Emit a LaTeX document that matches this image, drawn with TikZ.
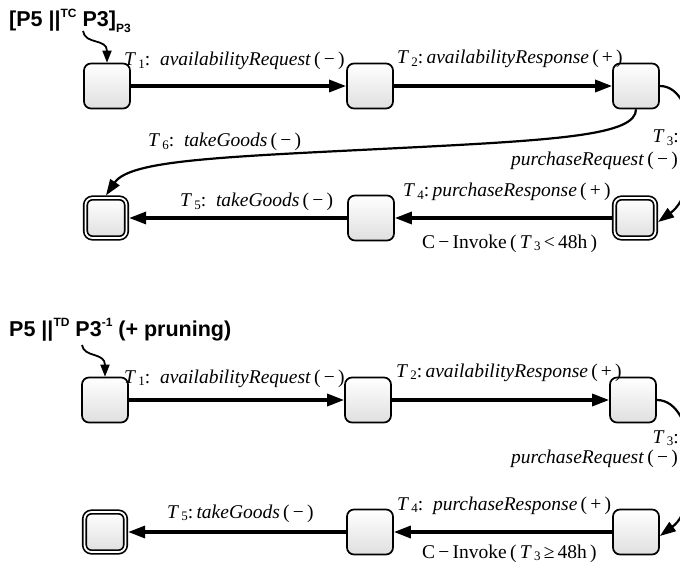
\documentclass[tikz,border=0pt]{standalone}
\usepackage{fontspec}
\setmainfont{Liberation Serif}
\newfontfamily\titlefont{Liberation Sans}
\usetikzlibrary{arrows.meta}
\newcommand\Tl[1]{\textit{T}{\fontsize{13}{13}\selectfont\raisebox{-0.45ex}{\,#1}}}
\newcommand\tfs{\fontsize{21.5}{25}\selectfont}
\newcommand\tsm[1]{{\fontsize{12}{12}\selectfont #1}}
\tikzset{
  sbox/.style={draw, line width=1.7pt, rounded corners=7pt, minimum width=46pt,
    minimum height=45pt, top color=white, bottom color=gray!25, inner sep=0pt},
  dbox/.style={sbox, double, double distance=1.8pt, minimum width=41pt,
    minimum height=40pt, outer sep=2.6pt},
  tr/.style={line width=3.2pt, -{Triangle[length=17pt,width=12pt]}},
  ctr/.style={line width=2.2pt, -{Triangle[length=16pt,width=11pt]}},
  initarr/.style={line width=1.8pt, -{Triangle[length=12pt,width=9pt]}},
  lab/.style={font=\fontsize{19.5}{22}\selectfont, inner sep=0pt, anchor=base west},
  labr/.style={lab, anchor=base east},
  ttl/.style={font=\titlefont\bfseries\tfs, inner sep=0pt, anchor=base west},
}
\begin{document}
\begin{tikzpicture}[x=1pt,y=-1pt]
\useasboundingbox (0,0) rectangle (680,572);
% ---------- top diagram ----------
\node[ttl] (t1) at (9,27) {[P5 ||\raisebox{0.85ex}{\tsm{TC}} P3]\raisebox{-0.5ex}{\tsm{P3}}};
\coordinate (i1) at (83,31);
\node[sbox] (A1) at (107,86) {};
\node[sbox] (A2) at (370,86) {};
\node[sbox] (A3) at (636,86) {};
\node[dbox] (A4) at (635,218) {};
\node[sbox] (A5) at (371,218) {};
\node[dbox] (A6) at (106,218) {};
\draw[initarr] (i1) .. controls (85,45) and (107,38) .. (A1.north);
\draw[tr] (A1) -- (A2);
\draw[tr] (A2) -- (A3);
\draw[ctr] (A3.east) .. controls (700,86) and (702,190) .. ([yshift=-4pt]A4.east);
\draw[tr] (A4) -- (A5);
\draw[tr] (A5) -- (A6);
\draw[ctr] (A3.south) .. controls (636,135) and (560,140) .. (400,148)
   .. controls (220,157) and (130,160) .. (A6.north);
\node[lab] (l1) at (124,66) {\Tl{1}:\ \ \textit{availabilityRequest}\,(\,−\,)};
\node[lab] (l2) at (397,64) {\Tl{2}:\,\textit{availabilityResponse}\,(\,+\,)};
\node[labr] (l3a) at (679,143) {\Tl{3}:};
\node[labr] (l3b) at (678,166) {\textit{purchaseRequest}\,(\,−\,)};
\node[lab] (l6) at (148,147) {\Tl{6}:\ \ \textit{takeGoods}\,(\,−\,)};
\node[lab] (l5) at (180,207) {\Tl{5}:\ \ \textit{takeGoods}\,(\,−\,)};
\node[lab] (l4) at (403,197) {\Tl{4}:\,\textit{purchaseResponse}\,(\,+\,)};
\node[lab] (c1) at (422,248) {C\,−\,Invoke\,(\,\Tl{3}\,<\,48h\,)};
% ---------- bottom diagram ----------
\node[ttl] (t2) at (9,336) {P5 ||\raisebox{0.85ex}{\tsm{TD}} P3\raisebox{0.85ex}{\tsm{-1}} (+ pruning)};
\coordinate (i2) at (82,345);
\node[sbox] (B1) at (105,400) {};
\node[sbox] (B2) at (368,400) {};
\node[sbox] (B3) at (633,400) {};
\node[sbox] (B4) at (636,532) {};
\node[sbox] (B5) at (370,532) {};
\node[dbox] (B6) at (105,532) {};
\draw[initarr] (i2) .. controls (84,358) and (105,352) .. (B1.north);
\draw[tr] (B1) -- (B2);
\draw[tr] (B2) -- (B3);
\draw[ctr] (B3.east) .. controls (698,400) and (702,505) .. ([yshift=-4pt]B4.east);
\draw[tr] (B4) -- (B5);
\draw[tr] (B5) -- (B6);
\node[lab] (m1) at (124,383) {\Tl{1}:\ \ \textit{availabilityRequest}\,(\,−\,)};
\node[lab] (m2) at (396,377) {\Tl{2}:\,\textit{availabilityResponse}\,(\,+\,)};
\node[labr] (m3a) at (679,443) {\Tl{3}:};
\node[labr] (m3b) at (678,463) {\textit{purchaseRequest}\,(\,−\,)};
\node[lab] (m4) at (397,510) {\Tl{4}:\ \ \textit{purchaseResponse}\,(\,+\,)};
\node[lab] (c2) at (422,558) {C\,−\,Invoke\,(\,\Tl{3}\,≥\,48h\,)};
\node[lab] (m5) at (167,518) {\Tl{5}:\,\textit{takeGoods}\,(\,−\,)};
\end{tikzpicture}
\end{document}
